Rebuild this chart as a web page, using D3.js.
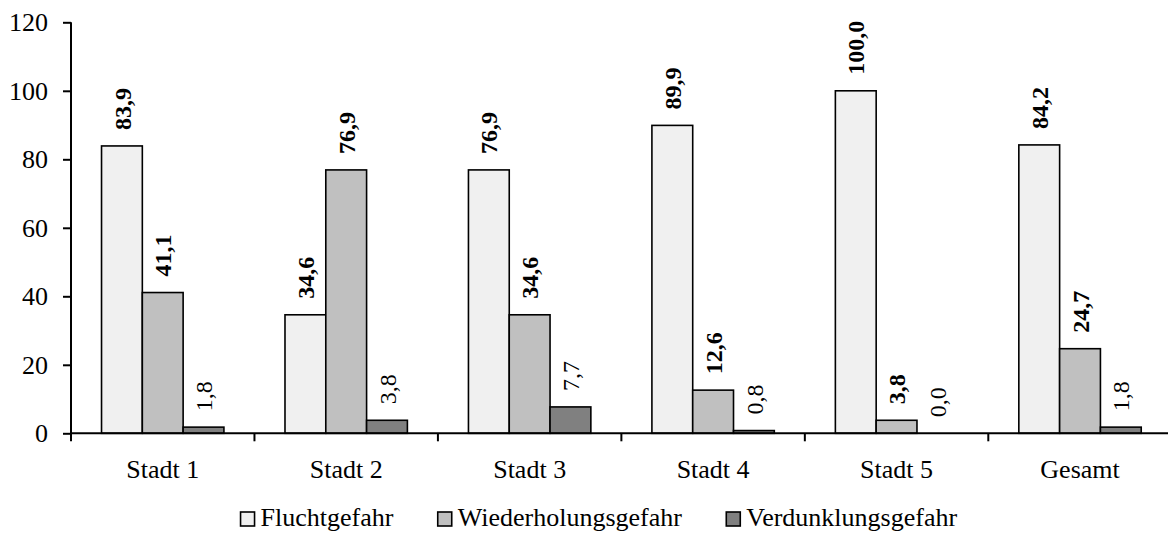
<!DOCTYPE html>
<html>
<head>
<meta charset="utf-8">
<script src="https://cdn.jsdelivr.net/npm/d3@7"></script>
<style>
  html, body { margin: 0; padding: 0; background: #fff; }
  svg { display: block; }
  text { font-family: "Liberation Serif", "Times New Roman", serif; fill: #000; }
</style>
</head>
<body>
<svg id="chart" width="1168" height="536"></svg>
<script>
const categories = ["Stadt 1", "Stadt 2", "Stadt 3", "Stadt 4", "Stadt 5", "Gesamt"];
const seriesNames = ["Fluchtgefahr", "Wiederholungsgefahr", "Verdunklungsgefahr"];
const fluchtgefahr = [83.9, 34.6, 76.9, 89.9, 100.0, 84.2];
const wiederholungsgefahr = [41.1, 76.9, 34.6, 12.6, 3.8, 24.7];
const verdunklungsgefahr = [1.8, 3.8, 7.7, 0.8, 0.0, 1.8];
const yTicks = [0, 20, 40, 60, 80, 100, 120];
const seriesColors = ["#f0f0f0", "#c0c0c0", "#808080"];
const seriesBold = [true, true, false];

const seriesValues = [fluchtgefahr, wiederholungsgefahr, verdunklungsgefahr];

const svg = d3.select("#chart");
const plotLeft = 71, plotBottom = 433.3, plotTop = 22.3;
const step = 183.46;

const x = d3.scaleBand().domain(categories).range([plotLeft, plotLeft + step * categories.length]).paddingInner(0).paddingOuter(0);
const barW = 40.8;
const xs = d3.scaleBand().domain(seriesNames).range([0, barW * 3]);
const y = d3.scaleLinear().domain([0, 120]).range([plotBottom, plotTop]);

// bars
const groups = svg.append("g").selectAll("g")
  .data(categories)
  .join("g")
  .attr("transform", d => `translate(${x(d) + x.bandwidth() / 2 - barW * 1.5},0)`);

seriesNames.forEach((s, si) => {
  groups.append("rect")
    .attr("x", xs(s))
    .attr("y", (d, i) => y(seriesValues[si][i]))
    .attr("width", xs.bandwidth())
    .attr("height", (d, i) => y(0) - y(seriesValues[si][i]))
    .attr("fill", seriesColors[si])
    .attr("stroke", "#000")
    .attr("stroke-width", 1.6);
});

// value labels
const fmt = v => v.toFixed(1).replace(".", ",");
seriesNames.forEach((s, si) => {
  groups.append("text")
    .attr("transform", (d, i) => `translate(${xs(s) + xs.bandwidth() / 2},${y(seriesValues[si][i]) - 16}) rotate(-90)`)
    .attr("dy", "0.36em")
    .attr("text-anchor", "start")
    .style("font-size", "24px")
    .style("font-weight", seriesBold[si] ? "bold" : "normal")
    .text((d, i) => fmt(seriesValues[si][i]));
});

// y axis
const yAxis = d3.axisLeft(y).tickValues(yTicks).tickSize(8).tickPadding(15).tickFormat(d3.format("d"));
const gy = svg.append("g").attr("transform", `translate(${plotLeft},0)`).call(yAxis);
gy.select(".domain").remove();
gy.selectAll(".tick line").attr("stroke", "#000").attr("stroke-width", 2);
gy.selectAll(".tick text").style("font-size", "26px").style("font-family", "Liberation Serif, serif").attr("fill", "#000");
svg.append("line").attr("x1", plotLeft).attr("x2", plotLeft).attr("y1", plotTop).attr("y2", plotBottom + 8)
  .attr("stroke", "#000").attr("stroke-width", 2);

// x axis
const xAxis = d3.axisBottom(x).tickSize(0).tickPadding(26);
const gx = svg.append("g").attr("transform", `translate(0,${plotBottom})`).call(xAxis);
gx.select(".domain").remove();
gx.selectAll(".tick text").style("font-size", "26px").style("font-family", "Liberation Serif, serif").attr("fill", "#000");
svg.append("line").attr("x1", plotLeft - 1).attr("x2", 1168).attr("y1", plotBottom).attr("y2", plotBottom)
  .attr("stroke", "#000").attr("stroke-width", 2);
svg.append("g").selectAll("line")
  .data(categories)
  .join("line")
  .attr("x1", d => x(d) + step)
  .attr("x2", d => x(d) + step)
  .attr("y1", plotBottom).attr("y2", plotBottom + 8)
  .attr("stroke", "#000").attr("stroke-width", 2);

// legend
const legend = svg.append("g");
const items = legend.selectAll("g").data(seriesNames).join("g");
items.append("rect")
  .attr("x", 0).attr("y", -14).attr("width", 14).attr("height", 14)
  .attr("fill", (d, i) => seriesColors[i]).attr("stroke", "#000").attr("stroke-width", 1.6);
items.append("text")
  .attr("x", 20).attr("y", 0)
  .style("font-size", "26px")
  .text(d => d);
const widths = [];
items.each(function () { widths.push(this.getBBox().width); });
const gap = 44;
const total = d3.sum(widths) + gap * (widths.length - 1);
const startX = 599 - total / 2;
items.attr("transform", (d, i) => {
  const tx = startX + d3.sum(widths.slice(0, i)) + gap * i;
  return `translate(${tx},526)`;
});
</script>
</body>
</html>
